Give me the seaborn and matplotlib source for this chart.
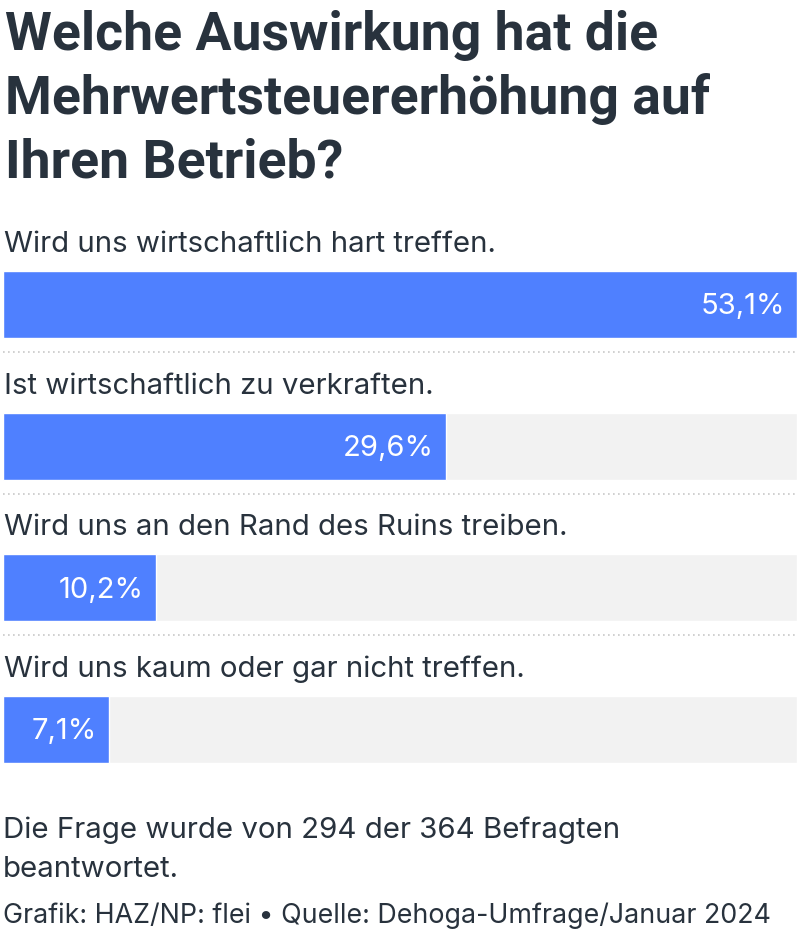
import matplotlib
matplotlib.use("Agg")
import matplotlib.pyplot as plt
import seaborn as sns
import pandas as pd

answers = ["Wird uns wirtschaftlich hart treffen.",
           "Ist wirtschaftlich zu verkraften.",
           "Wird uns an den Rand des Ruins treiben.",
           "Wird uns kaum oder gar nicht treffen."]
shares = [53.1, 29.6, 10.2, 7.1]
value_labels = ["53,1%", "29,6%", "10,2%", "7,1%"]

title = "Welche Auswirkung hat die\nMehrwertsteuererhöhung auf\nIhren Betrieb?"
note = "Die Frage wurde von 294 der 364 Befragten\nbeantwortet."
source = "Grafik: HAZ/NP: flei • Quelle: Dehoga-Umfrage/Januar 2024"

blue = "#4f80ff"
track = "#f2f2f2"
ink = "#28323d"

sns.set_theme(style="white")
plt.rcParams['font.family'] = ['Inter', 'DejaVu Sans']

df = pd.DataFrame({"answer": answers, "share": shares})
full = max(shares)

W, H = 800, 937
fig = plt.figure(figsize=(8, 9.37), dpi=100)

# axes: x from px 3 to 797, rows spaced ~141.7 px, first bar centred at 305.5
step = 141.67
top_px = 305.5 - step / 2
bot_px = 730.5 + step / 2
ax = fig.add_axes([3 / W, 1 - bot_px / H, 794 / W, (bot_px - top_px) / H])

sns.barplot(data=df.assign(share=full), x="share", y="answer", color=track,
            width=0.475, ax=ax, saturation=1)
sns.barplot(data=df, x="share", y="answer", color=blue,
            width=0.475, ax=ax, saturation=1)
ax.set_xlim(0, full)
ax.set_ylim(3.5, -0.5)
ax.axis("off")

for i, (lab, v, txt) in enumerate(zip(answers, shares, value_labels)):
    ax.text(0.1, i - 0.43, lab, fontsize=21.2, color=ink, va="center", ha="left")
    ax.text(v - 0.8, i + 0.01, txt, fontsize=21, color="white", va="center",
            ha="right")
    if i < len(answers) - 1:
        ax.plot([0, full], [i + 0.335, i + 0.335], color="#c8c8c8", lw=1.2,
                ls=(0, (1, 2)), clip_on=False)

fig.text(5 / W, 1 - 10 / H, title, fontsize=38.5, fontweight="bold", color=ink,
         family=["Roboto", "DejaVu Sans"], va="top", ha="left", linespacing=1.3)
fig.text(3 / W, 1 - 817 / H, note, fontsize=21.2, color=ink, va="top", ha="left",
         linespacing=1.55)
fig.text(3 / W, 1 - 903 / H, source, fontsize=19.3, color=ink, va="top", ha="left")

fig.savefig("out.png", dpi=100, facecolor="white")
